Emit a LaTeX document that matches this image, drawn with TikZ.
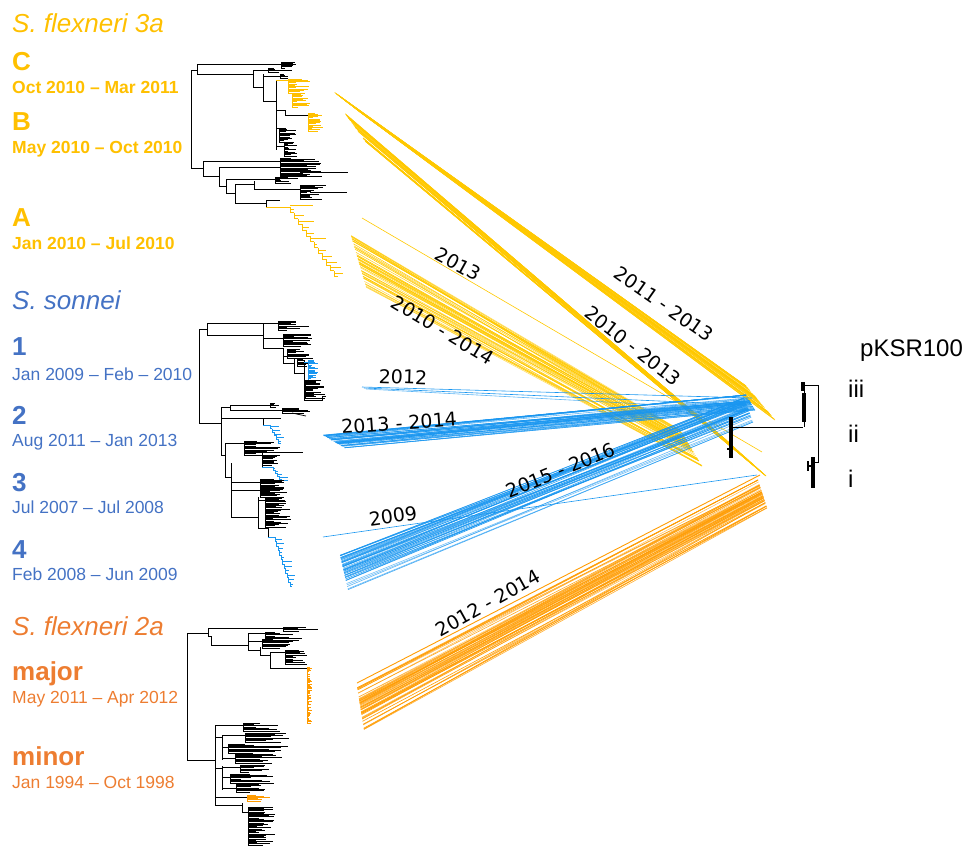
\documentclass[tikz,border=0pt]{standalone}
\usepackage{fontspec}
\setmainfont{Liberation Sans}
\newfontfamily\yrfont{DejaVu Sans}
\usetikzlibrary{calc}
\definecolor{gold}{RGB}{255,192,0}
\definecolor{lblue}{RGB}{68,114,196}
\definecolor{lorange}{RGB}{237,125,49}
\definecolor{ylw}{RGB}{255,200,0}
\definecolor{blu}{RGB}{25,150,240}
\definecolor{org}{RGB}{255,155,0}

% comb of tips: x, y top, y bottom, max tip length, style
\newcommand\tipcomb[5]{%
  \draw[#5] (#1,#2) -- (#1,#3);
  \pgfmathtruncatemacro\nn{max(1,(#3-#2)/1.2)}%
  \foreach \j in {0,...,\nn}{%
    \pgfmathsetmacro\yy{#2+(#3-#2)*\j/\nn}%
    \pgfmathsetmacro\ll{#4*(0.25+0.75*rnd)}%
    \draw[#5] (#1,\yy) -- ++(\ll,0);
  }}
% ladder-shaped clade: x0, y0, dx, dy, steps, tip length, style
\newcommand\stairclade[7]{%
  \foreach \j in {1,...,#5}{%
    \draw[#7] ({#1+(\j-1)*#3},{#2+(\j-1)*#4}) |- ({#1+\j*#3},{#2+\j*#4});
    \pgfmathsetmacro\ll{#6*(0.2+0.8*rnd)}%
    \draw[#7] ({#1+(\j-1)*#3},{#2+(\j-0.5)*#4}) -- ++(\ll,0);
  }}
% band of links: style, count, left end a, left end b, right end a, right end b
\newcommand\linkband[6]{%
  \foreach \j in {1,...,#2}{%
    \pgfmathsetmacro\ta{rnd}%
    \pgfmathsetmacro\tb{min(1,max(0,\ta+0.4*(rnd-0.5)))}%
    \pgfmathsetmacro\op{0.55+0.45*rnd}%
    \draw[#1,opacity=\op] ($(#3)!\ta!(#4)$) -- ($(#5)!\tb!(#6)$);
  }}

\begin{document}
\begin{tikzpicture}[x=1pt,y=-1pt,
  tr/.style={line width=1pt,black},
  tt/.style={line width=0.75pt,black},
  yt/.style={line width=0.9pt,gold},
  bt/.style={line width=0.9pt,blu},
  ot/.style={line width=0.9pt,org},
  yl/.style={line width=0.6pt,ylw},
  bl/.style={line width=0.6pt,blu},
  ol/.style={line width=0.6pt,org},
  head/.style={anchor=base west,inner sep=0pt,font=\fontsize{26}{30}\selectfont\itshape},
  tag/.style={anchor=base west,inner sep=0pt,font=\fontsize{26}{30}\selectfont\bfseries},
  span/.style={anchor=base west,inner sep=0pt,font=\fontsize{17.5}{20}\selectfont},
  yr/.style={inner sep=0pt,font=\yrfont\fontsize{19}{22}\selectfont},
  pl/.style={anchor=base west,inner sep=0pt,font=\fontsize{24}{28}\selectfont}]
\useasboundingbox (0,0) rectangle (966,847);
\pgfmathsetseed{42}

% ---------- group labels ----------
\node[head,text=gold] (h3a) at (12,32) {S. flexneri 3a};
\node[tag,text=gold] (cC) at (12,70) {C};
\node[span,text=gold,font=\fontsize{17.5}{20}\selectfont\bfseries] (dC) at (12,93) {Oct 2010 -- Mar 2011};
\node[tag,text=gold] (cB) at (12,130) {B};
\node[span,text=gold,font=\fontsize{17.5}{20}\selectfont\bfseries] (dB) at (12,153) {May 2010 -- Oct 2010};
\node[tag,text=gold] (cA) at (12,226) {A};
\node[span,text=gold,font=\fontsize{17.5}{20}\selectfont\bfseries] (dA) at (12,249) {Jan 2010 -- Jul 2010};

\node[head,text=lblue] (hs) at (12,309) {S. sonnei};
\node[tag,text=lblue] (c1) at (12,355) {1};
\node[span,text=lblue] (d1) at (12,380) {Jan 2009 -- Feb -- 2010};
\node[tag,text=lblue] (c2) at (12,424) {2};
\node[span,text=lblue] (d2) at (12,446) {Aug 2011 -- Jan 2013};
\node[tag,text=lblue] (c3) at (12,491) {3};
\node[span,text=lblue] (d3) at (12,513) {Jul 2007 -- Jul 2008};
\node[tag,text=lblue] (c4) at (12,558) {4};
\node[span,text=lblue] (d4) at (12,580) {Feb 2008 -- Jun 2009};

\node[head,text=lorange] (h2a) at (12,635) {S. flexneri 2a};
\node[tag,text=lorange] (cmaj) at (12,680) {major};
\node[span,text=lorange] (dmaj) at (12,703) {May 2011 -- Apr 2012};
\node[tag,text=lorange] (cmin) at (12,765) {minor};
\node[span,text=lorange] (dmin) at (12,788) {Jan 1994 -- Oct 1998};

\node[pl] (pk) at (860,356) {pKSR100};
\node[pl] (p3) at (848,397) {iii};
\node[pl] (p2) at (848,442) {ii};
\node[pl] (p1) at (848,487) {i};

% ---------- links: S. flexneri 3a ----------
\linkband{yl}{50}{334,92}{360,112}{746,386}{775,420}
\linkband{yl}{40}{344,112}{366,142}{726,440}{766,476}
\draw[yl] (362,218) -- (762,452);
\linkband{yl}{50}{350,232}{367,290}{680,430}{702,466}

% ---------- links: S. sonnei ----------
\draw[bl] (362,387) -- (752,398);
\draw[bl] (364,388) -- (750,405);
\draw[bl,opacity=0.7] (366,389) -- (755,410);
\linkband{bl}{45}{323,435}{345,448}{746,395}{755,410}
\draw[bl] (323,537) -- (757,475);
\linkband{bl}{50}{340,555}{348,590}{744,398}{753,422}

% ---------- links: S. flexneri 2a ----------
\draw[ol,line width=0.9pt] (357,683) -- (760,475);
\linkband{ol}{60}{357,686}{364,730}{758,480}{767,508}

% ---------- link labels ----------
\node[yr,rotate=-29] (l2013) at (458,264) {2013};
\node[yr,rotate=-31] (l1014) at (443,330) {2010 - 2014};
\node[yr,rotate=-35] (l1113) at (664,304) {2011 - 2013};
\node[yr,rotate=-38] (l1013) at (633,346) {2010 - 2013};
\node[yr,rotate=-2] (l2012) at (403,377) {2012};
\node[yr,rotate=4] (l1314) at (399,423) {2013 - 2014};
\node[yr,rotate=8] (l2009) at (393,516) {2009};
\node[yr,rotate=22] (l1516) at (561,470) {2015 - 2016};
\node[yr,rotate=29] (l1214) at (488,603) {2012 - 2014};

% ---------- tree: S. flexneri 3a ----------
\draw[tr] (191,70) -- (191,168);
\draw[tr] (191,70) -- (197,70);
\draw[tr] (197,64) -- (197,74);
\draw[tr] (197,64) -- (281,64);
\tipcomb{281}{62}{68}{16}{tt}
\draw[tr] (197,74) -- (253,74);
\draw[tr] (253,70) -- (253,87);
\draw[tr] (253,70) -- (268,70);
\tipcomb{268}{68}{72}{24}{tt}
\draw[tr] (253,87) -- (263,87);
\draw[tr] (263,74) -- (263,101);
\draw[tr] (263,76) -- (280,76);
\tipcomb{280}{74}{78}{8}{tt}
\draw[tr] (263,101) -- (276,101);
\draw[tr] (276,80) -- (276,150);
\draw[yt] (276,80) -- (288,80);
\tipcomb{288}{79}{93}{22}{yt}
\draw[yt] (288,93) -- (292,93);
\tipcomb{292}{93}{107}{18}{yt}
\draw[tr] (276,110) -- (285,110) -- (285,115) -- (308,115);
\tipcomb{308}{113}{131}{15}{yt}
\draw[tr] (276,128) -- (279,128);
\tipcomb{279}{128}{142}{20}{tt}
\draw[tr] (276,146) -- (284,146);
\tipcomb{284}{142}{156}{14}{tt}
\draw[tr] (191,168) -- (203,168);
\draw[tr] (203,161) -- (203,176);
\draw[tr] (203,161) -- (280,161);
\tipcomb{280}{158}{178}{42}{tt}
\draw[tt] (300,172) -- (348,172);
\draw[tr] (203,176) -- (219,176);
\draw[tr] (219,167) -- (219,186);
\draw[tr] (219,167) -- (280,167);
\draw[tr] (219,186) -- (226,186);
\draw[tr] (226,179) -- (226,193);
\draw[tr] (226,179) -- (275,179);
\tipcomb{275}{177}{183}{16}{tt}
\draw[tr] (226,193) -- (235,193);
\draw[tr] (235,184) -- (235,203);
\draw[tr] (235,184) -- (254,184);
\draw[tr] (254,181) -- (254,189);
\draw[tr] (254,189) -- (300,189);
\tipcomb{300}{185}{199}{26}{tt}
\draw[tt] (310,192) -- (347,192);
\draw[tr] (235,203) -- (266,203);
\draw[tr] (266,200) -- (266,207);
\draw[tr] (266,200) -- (280,200);
\draw[yt] (266,207) -- (290,207);
\draw[yt] (290,205) -- (313,205);
\stairclade{290}{207}{4}{5.8}{12}{16}{yt}

% ---------- tree: S. sonnei ----------
\draw[tr] (199,329) -- (199,423);
\draw[tr] (199,329) -- (207,329);
\draw[tr] (207,323) -- (207,335);
\draw[tr] (207,323) -- (263,323);
\draw[tr] (207,335) -- (263,335);
\draw[tr] (263,323) -- (263,348);
\draw[tr] (263,323) -- (278,323);
\tipcomb{278}{321}{330}{34}{tt}
\draw[tr] (263,338) -- (283,338);
\tipcomb{283}{334}{346}{30}{tt}
\draw[tr] (263,348) -- (283,348);
\draw[tr] (283,348) -- (283,363);
\tipcomb{287}{349}{358}{28}{tt}
\draw[tr] (283,356) -- (287,356);
\draw[tr] (283,363) -- (294,363);
\draw[tr] (294,358) -- (294,373);
\tipcomb{297}{358}{366}{14}{tt}
\draw[tr] (294,373) -- (304,373);
\draw[tr] (304,360) -- (304,400);
\draw[bt] (304,362) -- (308,362);
\tipcomb{308}{360}{380}{10}{bt}
\tipcomb{305}{380}{398}{20}{tt}
\draw[tr] (304,400) -- (322,400) -- (322,396) -- (326,396);
\draw[tr] (199,423) -- (221,423);
\draw[tr] (221,407) -- (221,455);
\draw[tr] (221,407) -- (230,407);
\draw[tr] (230,405) -- (230,410);
\draw[tr] (230,405) -- (270,405);
\tipcomb{270}{403}{407}{12}{tt}
\draw[tr] (230,410) -- (282,410);
\tipcomb{282}{408}{413}{36}{tt}
\draw[tt] (292,413) -- (306,416);
\draw[tr] (221,418) -- (263,418);
\draw[tr] (263,418) -- (263,425);
\draw[tr] (263,418) -- (281,418);
\draw[bt] (263,425) -- (270,425);
\stairclade{270}{425}{2.2}{3.6}{5}{9}{bt}
\draw[tr] (221,455) -- (225,455);
\draw[tr] (225,443) -- (225,477);
\draw[tr] (225,443) -- (244,443);
\draw[tr] (244,441) -- (244,455);
\tipcomb{244}{441}{455}{42}{tt}
\draw[tt] (252,452) -- (303,452);
\draw[tr] (244,455) -- (262,455);
\draw[tr] (262,453) -- (262,467);
\tipcomb{262}{455}{465}{16}{tt}
\draw[bt] (262,467) -- (273,467);
\stairclade{273}{467}{2}{3}{5}{9}{bt}
\draw[tr] (225,477) -- (231,477);
\draw[tr] (231,463) -- (231,517);
\draw[tr] (231,482) -- (260,482);
\tipcomb{260}{479}{497}{28}{tt}
\draw[tr] (231,490) -- (280,490);
\draw[tr] (231,517) -- (258,517);
\draw[tr] (258,497) -- (258,528);
\draw[tr] (258,500) -- (265,500);
\tipcomb{265}{497}{527}{26}{tt}
\draw[tr] (258,528) -- (268,528) -- (268,537);
\draw[bt] (268,537) -- (275,537);
\stairclade{275}{537}{1.5}{4.5}{11}{10}{bt}

% ---------- tree: S. flexneri 2a ----------
\draw[tr] (187,633) -- (187,760);
\draw[tr] (187,633) -- (208,633);
\draw[tr] (208,628) -- (208,636);
\draw[tr] (208,628) -- (283,628);
\tipcomb{283}{627}{631}{32}{tt}
\draw[tt] (300,629) -- (318,629);
\draw[tr] (208,636) -- (211,636);
\draw[tr] (211,636) -- (211,645);
\draw[tr] (211,645) -- (248,645);
\draw[tr] (248,633) -- (248,650);
\draw[tr] (248,633) -- (265,633);
\tipcomb{265}{632}{640}{40}{tt}
\draw[tr] (248,641) -- (262,641);
\tipcomb{262}{639}{648}{36}{tt}
\draw[tr] (248,650) -- (260,650);
\draw[tr] (260,647) -- (260,655);
\draw[tr] (260,655) -- (270,655);
\draw[tr] (270,652) -- (270,668);
\draw[tr] (270,652) -- (285,652);
\tipcomb{285}{650}{664}{25}{tt}
\draw[tr] (270,668) -- (307,668);
\tipcomb{307}{667}{723}{5}{ot}
\draw[tr] (187,760) -- (215,760);
\draw[tr] (215,725) -- (215,805);
\draw[tr] (215,725) -- (243,725);
\tipcomb{243}{723}{731}{42}{tt}
\draw[tr] (215,737) -- (222,737);
\draw[tr] (222,735) -- (222,760);
\draw[tr] (222,735) -- (245,735);
\tipcomb{245}{733}{742}{45}{tt}
\draw[tr] (222,747) -- (228,747);
\tipcomb{228}{744}{753}{60}{tt}
\draw[tr] (222,758) -- (235,758);
\tipcomb{235}{754}{763}{48}{tt}
\draw[tr] (215,768) -- (222,768);
\draw[tr] (222,766) -- (222,790);
\draw[tr] (222,767) -- (240,767);
\tipcomb{240}{765}{772}{30}{tt}
\draw[tr] (222,777) -- (230,777);
\tipcomb{230}{774}{783}{45}{tt}
\draw[tr] (222,788) -- (236,788);
\tipcomb{236}{784}{792}{30}{tt}
\draw[tr] (215,797) -- (247,797);
\tipcomb{247}{795}{801}{32}{ot}
\draw[tr] (215,805) -- (242,805);
\draw[tr] (242,803) -- (242,812);
\draw[tr] (242,812) -- (248,812);
\tipcomb{248}{807}{845}{28}{tt}

% ---------- tree: pKSR100 ----------
\draw[black,line width=3.6pt] (731,417) -- (731,458);
\draw[black,line width=2pt] (727,449) -- (733,449);
\draw[black,line width=0.8pt] (731,427) -- (803,427);
\draw[black,line width=0.8pt] (804,385) -- (804,427);
\draw[black,line width=4pt] (803,382) -- (803,391);
\draw[black,line width=3.6pt] (804,393) -- (804,422);
\draw[black,line width=0.8pt] (804,385) -- (818,385) -- (818,462) -- (813,462);
\draw[black,line width=3.6pt] (813,457) -- (813,488);
\draw[black,line width=2.6pt] (808,461) -- (808,471);
\draw[black,line width=1.2pt] (808,466) -- (813,466);
\end{tikzpicture}
\end{document}
